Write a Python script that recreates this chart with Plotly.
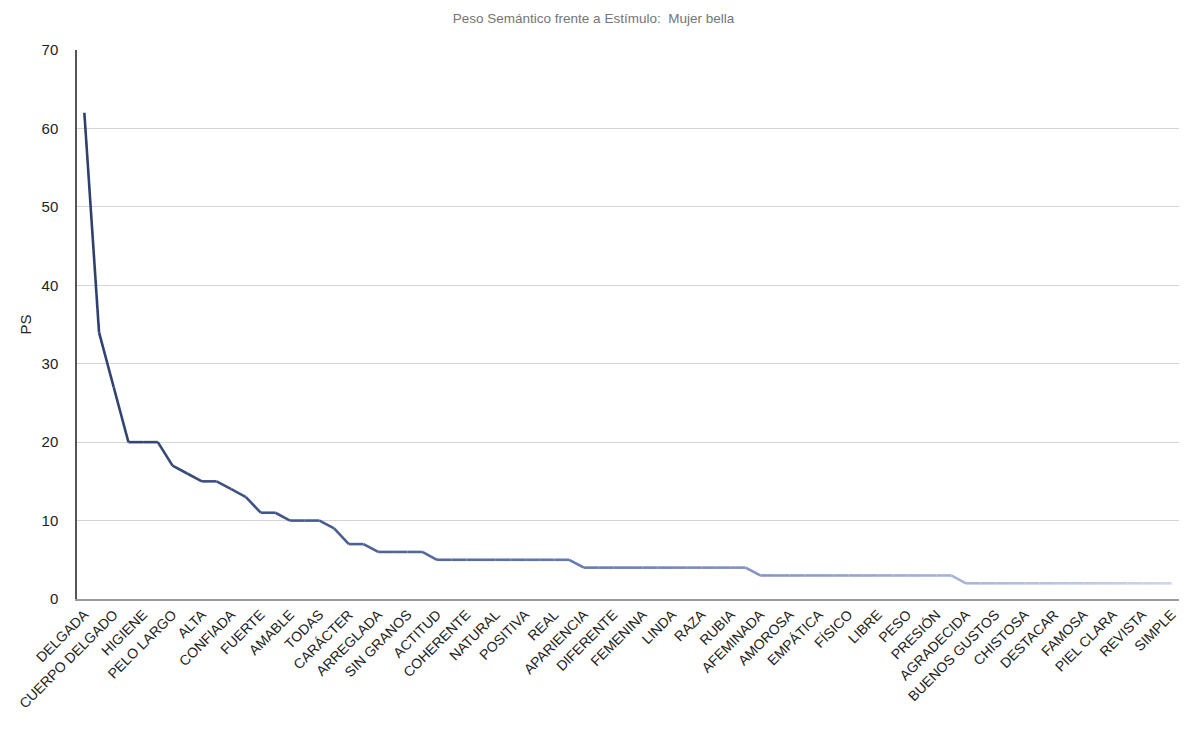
import plotly.graph_objects as go

# Semantic weight (PS) for each associated word, sorted descending
ps_values = [62, 34, 27, 20, 20, 20, 17, 16, 15, 15, 14, 13, 11, 11, 10, 10, 10, 9, 7, 7,
             6, 6, 6, 6, 5, 5, 5, 5, 5, 5, 5, 5, 5, 5,
             4, 4, 4, 4, 4, 4, 4, 4, 4, 4, 4, 4,
             3, 3, 3, 3, 3, 3, 3, 3, 3, 3, 3, 3, 3, 3,
             2, 2, 2, 2, 2, 2, 2, 2, 2, 2, 2, 2, 2, 2, 2]

# Labels shown on the axis (every second word)
tick_labels = ["DELGADA", "CUERPO DELGADO", "HIGIENE", "PELO LARGO", "ALTA", "CONFIADA",
               "FUERTE", "AMABLE", "TODAS", "CARÁCTER", "ARREGLADA", "SIN GRANOS",
               "ACTITUD", "COHERENTE", "NATURAL", "POSITIVA", "REAL", "APARIENCIA",
               "DIFERENTE", "FEMENINA", "LINDA", "RAZA", "RUBIA", "AFEMINADA", "AMOROSA",
               "EMPÁTICA", "FÍSICO", "LIBRE", "PESO", "PRESIÓN", "AGRADECIDA",
               "BUENOS GUSTOS", "CHISTOSA", "DESTACAR", "FAMOSA", "PIEL CLARA",
               "REVISTA", "SIMPLE"]

y_ticks = [0, 10, 20, 30, 40, 50, 60, 70]

x_pos = list(range(len(ps_values)))
tick_pos = x_pos[::2]

# Colour stops for the fading line: dark navy -> mid blue -> pale lavender
stops = [(0.0, (45, 64, 110)), (0.5, (108, 128, 185)), (1.0, (206, 212, 236))]


def blend(t):
    for (t0, c0), (t1, c1) in zip(stops[:-1], stops[1:]):
        if t <= t1:
            f = (t - t0) / (t1 - t0)
            r, g, b = (round(a + (b_ - a) * f) for a, b_ in zip(c0, c1))
            return f"rgb({r},{g},{b})"
    r, g, b = stops[-1][1]
    return f"rgb({r},{g},{b})"


fig = go.Figure()
n_seg = len(ps_values) - 1
# Line drawn segment by segment so its colour fades from dark to light
for i in range(n_seg):
    t = i / (n_seg - 1)
    fig.add_trace(go.Scatter(
        x=x_pos[i:i + 2], y=ps_values[i:i + 2], mode="lines",
        line=dict(color=blend(t), width=2.6),
        hoverinfo="skip", showlegend=False))

fig.update_layout(
    width=1187, height=734,
    margin=dict(l=77, r=8, t=50, b=135),
    paper_bgcolor="white", plot_bgcolor="white",
    font=dict(family="Liberation Sans, Arial, sans-serif", color="#222222"),
    title=dict(text="Peso Semántico frente a Estímulo:  Mujer bella",
               x=0.5, xanchor="center", y=0.975, yanchor="middle",
               font=dict(size=13.5, color="#757575")),
    showlegend=False,
)

fig.update_xaxes(
    range=[-0.5, len(ps_values) - 0.5],
    tickmode="array", tickvals=tick_pos, ticktext=tick_labels,
    tickangle=-45, tickfont=dict(size=14, color="#222222"),
    showgrid=False, zeroline=False,
    showline=True, linecolor="#9a9a9a", linewidth=2,
    ticks="",
)

fig.update_yaxes(
    range=[0, 70], tickmode="array", tickvals=y_ticks,
    tickfont=dict(size=15, color="#222222"),
    showgrid=True, gridcolor="#d4d4d4", gridwidth=1,
    zeroline=False, showline=True, linecolor="#555555", linewidth=1.5,
    ticks="", ticklabelstandoff=14,
    title=dict(text="PS", font=dict(size=15, color="#222222"), standoff=6),
)

fig.write_html("out.html")
